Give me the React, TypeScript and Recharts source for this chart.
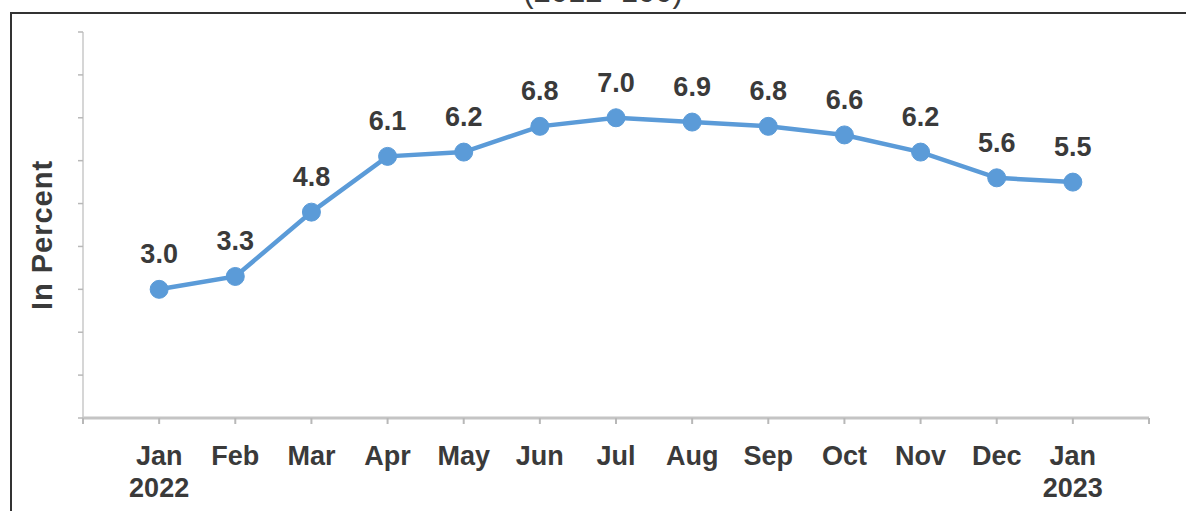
import React from 'react';
import { LineChart, Line, XAxis, YAxis, LabelList } from 'recharts';

const months = ['Jan', 'Feb', 'Mar', 'Apr', 'May', 'Jun', 'Jul', 'Aug', 'Sep', 'Oct', 'Nov', 'Dec', 'Jan'];
const years = ['2022', '', '', '', '', '', '', '', '', '', '', '', '2023'];
const inflation = [3.0, 3.3, 4.8, 6.1, 6.2, 6.8, 7.0, 6.9, 6.8, 6.6, 6.2, 5.6, 5.5];
const yTicks = [0, 1, 2, 3, 4, 5, 6, 7, 8, 9];
const xTicks = [0, 1, 2, 3, 4, 5, 6, 7, 8, 9, 10, 11, 12, 13, 14];
const title = '(2012=100)';
const yTitle = 'In Percent';

const data = months.map((m, i) => ({ idx: i + 1, month: m, year: years[i], value: inflation[i] }));

const FONT = 'Arial, "Liberation Sans", sans-serif';
const TEXT = '#3a3a3a';
const BLUE = '#5b9bd8';

const XTick = (props: any) => {
  const { x, y, payload } = props;
  const i = payload.value - 1;
  if (i < 0 || i >= months.length) return null;
  return (
    <g>
      <text x={x} y={y + 39} textAnchor="middle" fontFamily={FONT} fontWeight="bold" fontSize={27} fill={TEXT}>
        {months[i]}
      </text>
      {years[i] ? (
        <text x={x} y={y + 71} textAnchor="middle" fontFamily={FONT} fontWeight="bold" fontSize={27} fill={TEXT}>
          {years[i]}
        </text>
      ) : null}
    </g>
  );
};

const PointLabel = (props: any) => {
  const { x, y, value } = props;
  return (
    <text x={x} y={y - 26} textAnchor="middle" fontFamily={FONT} fontWeight="bold" fontSize={27} fill={TEXT}>
      {Number(value).toFixed(1)}
    </text>
  );
};

const YTitle = (props: any) => {
  const vb = props.viewBox || { x: 0, y: 32, width: 83, height: 386 };
  const cx = 42;
  const cy = vb.y + vb.height / 2 + 10;
  return (
    <text
      x={cx}
      y={cy}
      transform={`rotate(-90 ${cx} ${cy})`}
      textAnchor="middle"
      dominantBaseline="central"
      fontFamily={FONT}
      fontWeight="bold"
      fontSize={29}
      letterSpacing={1}
      fill={TEXT}
    >
      {yTitle}
    </text>
  );
};

export default function App() {
  return (
    <div style={{ position: 'absolute', left: 0, top: 0, width: 1186, height: 511, overflow: 'hidden', background: '#fff' }}>
      <div
        style={{
          position: 'absolute',
          left: 10,
          top: 12,
          width: 1300,
          height: 600,
          border: '2px solid #333',
          boxSizing: 'border-box',
        }}
      />
      <svg style={{ position: 'absolute', left: 0, top: 0 }} width={1186} height={20}>
        <text x={603} y={2} textAnchor="middle" fontFamily={FONT} fontSize={31} fill={TEXT}>
          {title}
        </text>
      </svg>
      <div style={{ position: 'absolute', left: 0, top: 0 }}>
        <LineChart width={1186} height={511} data={data} margin={{ top: 32, right: 37, bottom: 0, left: 0 }}>
          <XAxis
            dataKey="idx"
            type="number"
            domain={[0, 14]}
            ticks={xTicks}
            interval={0}
            allowDecimals={false}
            stroke="#c4c4c4"
            strokeWidth={3}
            tickLine={{ stroke: '#b8b8b8', strokeWidth: 2 }}
            tickSize={6}
            tick={<XTick />}
            height={93}
          />
          <YAxis
            type="number"
            domain={[0, 9]}
            ticks={yTicks}
            interval={0}
            width={83}
            stroke="#c8c8c8"
            strokeWidth={1.5}
            tickSize={5}
            tickLine={{ stroke: '#b8b8b8' }}
            tickFormatter={() => ''}
            label={<YTitle />}
          />
          <Line
            dataKey="value"
            stroke={BLUE}
            strokeWidth={4.5}
            dot={{ r: 9, fill: BLUE, stroke: BLUE, strokeWidth: 1 }}
            isAnimationActive={false}
          >
            <LabelList dataKey="value" content={<PointLabel />} />
          </Line>
        </LineChart>
      </div>
    </div>
  );
}
